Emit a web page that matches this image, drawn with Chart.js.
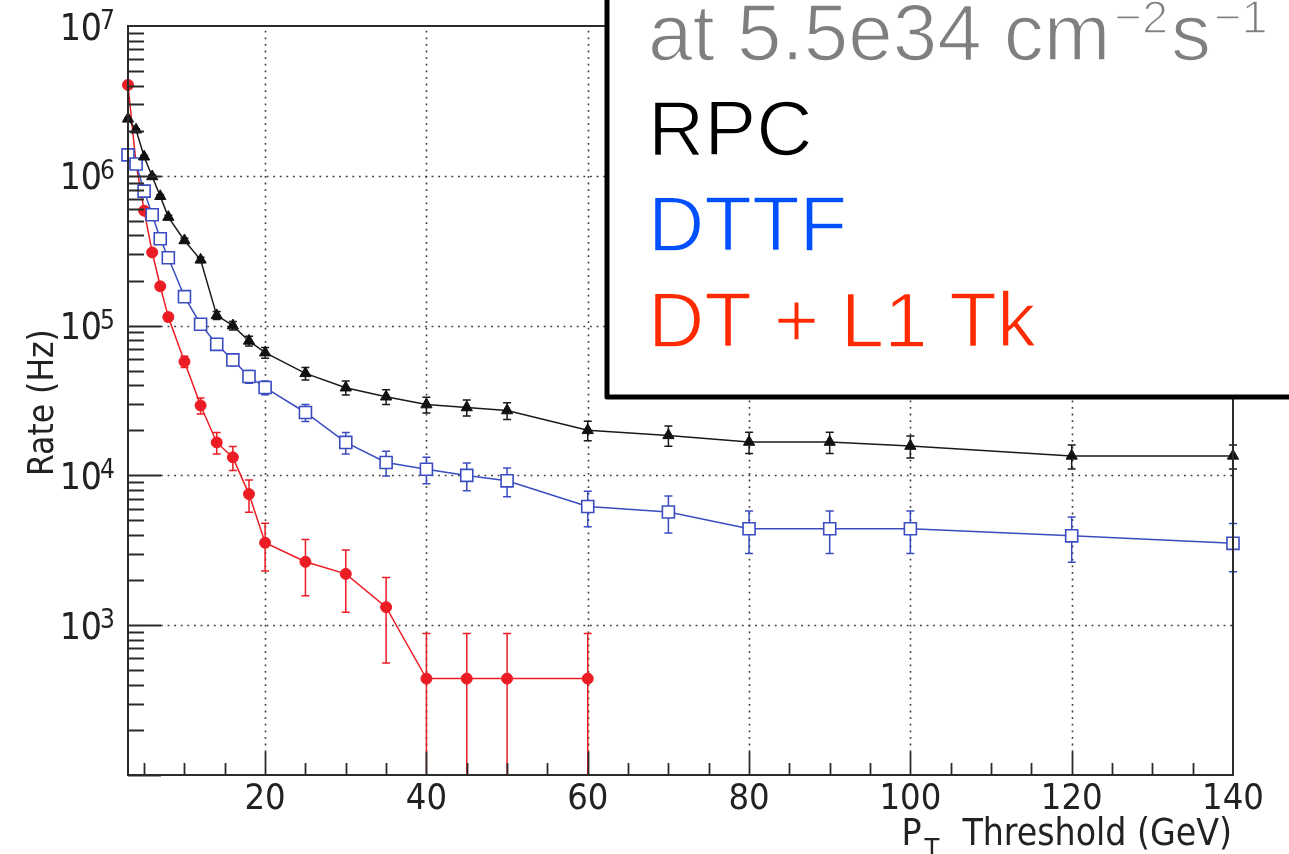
<!DOCTYPE html>
<html>
<head>
<meta charset="utf-8">
<script src="https://cdn.jsdelivr.net/npm/chart.js@4.4.0/dist/chart.umd.min.js"></script>
<style>
  html, body { margin: 0; padding: 0; background: #fff; }
</style>
</head>
<body>
<canvas id="rateChart" width="1289" height="854"></canvas>
<script>
// pT thresholds (GeV)
const thresholds = [3, 4, 5, 6, 7, 8, 10, 12, 14, 16, 18, 20, 25, 30, 35, 40, 45, 50, 60, 70, 80, 90, 100, 120, 140];

// rates in Hz, with their errors
const rpcRate = [2.4e6, 2.03e6, 1.34e6, 9.9e5, 7.3e5, 5.3e5, 3.7e5, 2.75e5, 1.17e5, 1.0e5, 7.9e4, 6.6e4, 4.8e4, 3.85e4, 3.35e4, 2.97e4, 2.84e4, 2.71e4, 2.0e4, 1.85e4, 1.67e4, 1.67e4, 1.57e4, 1.35e4, 1.35e4];
const rpcErr = [32000, 30000, 24000, 21000, 18000, 15000, 13000, 11000, 7200, 6600, 5900, 5400, 4600, 4100, 3800, 3600, 3500, 3450, 2950, 2850, 2700, 2700, 2650, 2450, 2450];

const dttfRate = [1.38e6, 1.2e6, 7.9e5, 5.5e5, 3.8e5, 2.84e5, 1.56e5, 1.02e5, 7.5e4, 5.9e4, 4.57e4, 3.86e4, 2.63e4, 1.66e4, 1.22e4, 1.1e4, 1.0e4, 9.2e3, 6.2e3, 5.7e3, 4.4e3, 4.4e3, 4.4e3, 3.95e3, 3.52e3];
const dttfErr = [24600, 23000, 18600, 15500, 12900, 11200, 8300, 6700, 5700, 5100, 4500, 4100, 3400, 2700, 2300, 2200, 2100, 2000, 1650, 1580, 1390, 1390, 1390, 1320, 1250];

const dtTkThresholds = [3, 4, 5, 6, 7, 8, 10, 12, 14, 16, 18, 20, 25, 30, 35, 40, 45, 50, 60];
const dtTkRate = [4.04e6, 1.2e6, 5.85e5, 3.08e5, 1.83e5, 1.14e5, 5.75e4, 2.93e4, 1.66e4, 1.32e4, 7.5e3, 3.55e3, 2.65e3, 2.2e3, 1.32e3, 440, 440, 440, 440];
const dtTkErr = [42000, 23000, 16000, 11600, 9000, 7100, 5000, 3600, 2700, 2400, 1820, 1250, 1080, 980, 760, 440, 440, 440, 440];

// axis ticks
const xTickValues = [20, 40, 60, 80, 100, 120, 140];
const xTickLabels = ['20', '40', '60', '80', '100', '120', '140'];
const yTickValues = [1e3, 1e4, 1e5, 1e6, 1e7];
const yTickExponents = ['3', '4', '5', '6', '7'];

const TICK_FONT = '"DejaVu Sans Condensed", "DejaVu Sans", sans-serif';
const LEG_FONT = '"Liberation Sans", Arial, sans-serif';

function toPoints(xs, ys) {
  return xs.map((x, i) => ({ x: x, y: ys[i] }));
}

// fill text, then shave the strokes a little so it reads lighter
function lightText(ctx, str, px, py) {
  ctx.fillText(str, px, py);
  ctx.save();
  ctx.strokeStyle = '#fff';
  ctx.lineWidth = 1.6;
  ctx.strokeText(str, px, py);
  ctx.restore();
}

const rootFrame = {
  id: 'rootFrame',
  beforeDatasetsDraw(chart) {
    const { ctx, chartArea: a } = chart;
    const x = chart.scales.x, y = chart.scales.y;
    ctx.save();
    // dotted grid
    ctx.strokeStyle = '#3a3a3a';
    ctx.lineWidth = 1.6;
    ctx.setLineDash([1.8, 4.8]);
    yTickValues.slice(0, -1).forEach(v => {
      const py = Math.round(y.getPixelForValue(v)) + 0.5;
      ctx.beginPath(); ctx.moveTo(a.left + 33, py); ctx.lineTo(a.right, py); ctx.stroke();
    });
    xTickValues.slice(0, -1).forEach(v => {
      const px = Math.round(x.getPixelForValue(v)) + 0.5;
      ctx.beginPath(); ctx.moveTo(px, a.bottom - 23); ctx.lineTo(px, a.top); ctx.stroke();
    });
    ctx.setLineDash([]);

    // error bars
    chart.data.datasets.forEach(ds => {
      ctx.strokeStyle = ds.borderColor;
      ctx.lineWidth = 1.5;
      ds.data.forEach((p, j) => {
        const e = ds.errors[j];
        const px = x.getPixelForValue(p.x);
        const top = Math.max(a.top, y.getPixelForValue(p.y + e));
        const bot = (p.y - e) > y.min ? y.getPixelForValue(p.y - e) : a.bottom;
        ctx.beginPath();
        ctx.moveTo(px, top); ctx.lineTo(px, bot);
        ctx.moveTo(px - 4, top); ctx.lineTo(px + 4, top);
        ctx.moveTo(px - 4, bot); ctx.lineTo(px + 4, bot);
        ctx.stroke();
      });
    });
    ctx.restore();
  },
  afterDatasetsDraw(chart) {
    const { ctx, chartArea: a } = chart;
    const x = chart.scales.x, y = chart.scales.y;
    ctx.save();

    // frame
    ctx.strokeStyle = '#2b2b2b';
    ctx.lineWidth = 2;
    ctx.strokeRect(a.left, a.top, a.right - a.left, a.bottom - a.top);

    // y ticks (inward)
    ctx.lineWidth = 1.8;
    ctx.beginPath();
    for (let k = 2; k <= 6; k++) {
      for (let m = 1; m <= 9; m++) {
        const v = m * Math.pow(10, k);
        const py = Math.round(y.getPixelForValue(v)) + 0.5;
        const len = m === 1 ? 33 : 16;
        ctx.moveTo(a.left, py); ctx.lineTo(a.left + len, py);
      }
    }
    // x ticks (inward)
    for (let v = 5; v < 140; v += 5) {
      const px = Math.round(x.getPixelForValue(v)) + 0.5;
      const len = v % 20 === 0 ? 23 : 12;
      ctx.moveTo(px, a.bottom); ctx.lineTo(px, a.bottom - len);
    }
    ctx.stroke();

    // tick labels
    ctx.fillStyle = '#222';
    ctx.textBaseline = 'alphabetic';
    ctx.font = '36px ' + TICK_FONT;
    ctx.textAlign = 'center';
    xTickValues.forEach((v, i) => {
      ctx.fillText(xTickLabels[i], x.getPixelForValue(v), a.bottom + 34);
    });
    yTickValues.forEach((v, i) => {
      const py = y.getPixelForValue(v);
      ctx.font = '37px ' + TICK_FONT;
      ctx.textAlign = 'right';
      ctx.fillText('10', 102, py + 13.5);
      ctx.font = '26px ' + TICK_FONT;
      ctx.textAlign = 'left';
      ctx.fillText(yTickExponents[i], 100, py + 3);
    });

    // axis titles
    ctx.font = '37px ' + TICK_FONT;
    ctx.textAlign = 'right';
    ctx.fillText('Threshold (GeV)', a.right - 1, 845);
    const tw = ctx.measureText('Threshold (GeV)').width;
    const left = a.right - 1 - tw;
    ctx.textAlign = 'left';
    ctx.fillText('P', left - 61, 845);
    ctx.font = '27px ' + TICK_FONT;
    ctx.fillText('T', left - 38, 858);

    ctx.save();
    ctx.translate(53, 476);
    ctx.rotate(-Math.PI / 2);
    ctx.font = '35px ' + TICK_FONT;
    ctx.textAlign = 'left';
    ctx.fillText('Rate (Hz)', 0, 0);
    ctx.restore();

    // legend box
    ctx.fillStyle = '#fff';
    ctx.strokeStyle = '#000';
    ctx.lineWidth = 5;
    ctx.lineJoin = 'round';
    ctx.beginPath();
    ctx.rect(607, -20, 720, 417);
    ctx.fill();
    ctx.stroke();

    let cx = 648;
    ctx.textAlign = 'left';
    ctx.fillStyle = '#7f7f7f';
    ctx.font = '80px ' + LEG_FONT;
    lightText(ctx, 'at 5.5e34 cm', cx, 60);
    cx += ctx.measureText('at 5.5e34 cm').width + 4;
    ctx.font = '47px ' + LEG_FONT;
    lightText(ctx, '\u22122', cx, 33);
    cx += ctx.measureText('\u22122').width + 3;
    ctx.font = '80px ' + LEG_FONT;
    lightText(ctx, 's', cx, 60);
    cx += ctx.measureText('s').width + 3;
    ctx.font = '47px ' + LEG_FONT;
    lightText(ctx, '\u22121', cx, 33);

    const legColors = ['#000000', '#0050ff', '#ff2a00'];
    const legBase = [155, 251, 347];
    ctx.font = '78px ' + LEG_FONT;
    chart.data.datasets.forEach((ds, i) => {
      ctx.fillStyle = legColors[i];
      lightText(ctx, ds.label, 648, legBase[i]);
    });
    ctx.restore();
  }
};

new Chart(document.getElementById('rateChart'), {
  type: 'line',
  data: {
    datasets: [
      {
        label: 'RPC',
        data: toPoints(thresholds, rpcRate),
        errors: rpcErr,
        borderColor: '#1a1a1a',
        backgroundColor: '#111111',
        pointBackgroundColor: '#111111',
        pointBorderColor: '#111111',
        pointStyle: 'triangle',
        pointRadius: 6.5,
        pointBorderWidth: 1,
        borderWidth: 1.5,
        clip: false
      },
      {
        label: 'DTTF',
        data: toPoints(thresholds, dttfRate),
        errors: dttfErr,
        borderColor: '#3a4cc0',
        backgroundColor: '#ffffff',
        pointBackgroundColor: '#ffffff',
        pointBorderColor: '#3a4cc0',
        pointStyle: 'rect',
        pointRadius: 8.5,
        pointBorderWidth: 1.6,
        borderWidth: 1.5,
        clip: false
      },
      {
        label: 'DT + L1 Tk',
        data: toPoints(dtTkThresholds, dtTkRate),
        errors: dtTkErr,
        borderColor: '#ec1c24',
        backgroundColor: '#ec1c24',
        pointBackgroundColor: '#ec1c24',
        pointBorderColor: '#ec1c24',
        pointStyle: 'circle',
        pointRadius: 5.5,
        pointBorderWidth: 1,
        borderWidth: 1.5,
        clip: false
      }
    ]
  },
  options: {
    responsive: false,
    animation: false,
    devicePixelRatio: 1,
    layout: { padding: { left: 128, top: 26, right: 56, bottom: 79 } },
    plugins: { legend: { display: false }, tooltip: { enabled: false } },
    scales: {
      x: { type: 'linear', min: 3, max: 140, display: false },
      y: { type: 'logarithmic', min: 100, max: 1e7, display: false }
    }
  },
  plugins: [rootFrame]
});
</script>
</body>
</html>
